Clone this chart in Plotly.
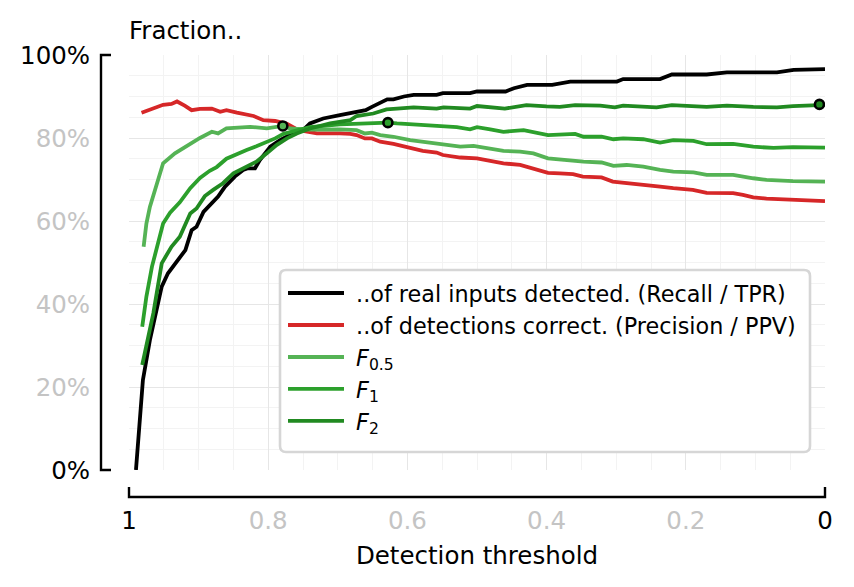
import numpy as np
import plotly.graph_objects as go

# ---------------- data ----------------
recall_t = [0.990, 0.980, 0.970, 0.963, 0.953, 0.944, 0.932, 0.919, 0.910, 0.903,
            0.893, 0.883, 0.872, 0.862, 0.848, 0.836, 0.829, 0.819, 0.812, 0.797,
            0.783, 0.769, 0.750, 0.740, 0.721, 0.697, 0.682, 0.673, 0.660, 0.651,
            0.639, 0.629, 0.620, 0.605, 0.591, 0.558, 0.549, 0.510, 0.500, 0.459,
            0.447, 0.428, 0.392, 0.366, 0.299, 0.290, 0.237, 0.220, 0.170, 0.141,
            0.069, 0.045, 0.000]
recall_v = [0.000, 0.217, 0.313, 0.369, 0.442, 0.474, 0.502, 0.530, 0.578, 0.586,
            0.622, 0.639, 0.659, 0.683, 0.707, 0.723, 0.727, 0.727, 0.747, 0.779,
            0.795, 0.807, 0.819, 0.835, 0.847, 0.855, 0.859, 0.863, 0.867, 0.875,
            0.885, 0.893, 0.893, 0.900, 0.904, 0.904, 0.908, 0.908, 0.912, 0.912,
            0.920, 0.928, 0.928, 0.936, 0.936, 0.942, 0.942, 0.953, 0.953, 0.958,
            0.958, 0.964, 0.966]

precision_t = [0.982, 0.967, 0.951, 0.939, 0.931, 0.920, 0.910, 0.898, 0.881, 0.869,
               0.860, 0.845, 0.833, 0.821, 0.807, 0.790, 0.773, 0.761, 0.750, 0.730,
               0.697, 0.682, 0.673, 0.661, 0.651, 0.639, 0.620, 0.596, 0.578, 0.558,
               0.549, 0.524, 0.500, 0.481, 0.462, 0.438, 0.419, 0.398, 0.381, 0.362,
               0.348, 0.321, 0.305, 0.285, 0.262, 0.237, 0.218, 0.190, 0.170, 0.132,
               0.118, 0.103, 0.084, 0.046, 0.000]
precision_v = [0.861, 0.871, 0.880, 0.882, 0.888, 0.878, 0.867, 0.870, 0.871, 0.863,
               0.867, 0.861, 0.858, 0.853, 0.843, 0.841, 0.834, 0.823, 0.817, 0.811,
               0.811, 0.810, 0.807, 0.799, 0.799, 0.791, 0.786, 0.775, 0.769, 0.765,
               0.759, 0.753, 0.751, 0.745, 0.739, 0.735, 0.727, 0.716, 0.715, 0.713,
               0.707, 0.705, 0.695, 0.692, 0.689, 0.683, 0.679, 0.675, 0.668, 0.667,
               0.663, 0.657, 0.654, 0.652, 0.648]

f05_t = [0.979, 0.975, 0.970, 0.960, 0.951, 0.934, 0.915, 0.898, 0.881, 0.872,
         0.860, 0.836, 0.826, 0.802, 0.790, 0.779, 0.769, 0.740, 0.697, 0.673,
         0.661, 0.651, 0.639, 0.620, 0.596, 0.577, 0.553, 0.524, 0.505, 0.481,
         0.462, 0.438, 0.419, 0.398, 0.366, 0.347, 0.321, 0.304, 0.285, 0.261,
         0.237, 0.218, 0.189, 0.170, 0.132, 0.117, 0.103, 0.084, 0.046, 0.000]
f05_v = [0.538, 0.594, 0.634, 0.691, 0.739, 0.763, 0.783, 0.800, 0.815, 0.811,
         0.823, 0.826, 0.827, 0.823, 0.826, 0.829, 0.823, 0.820, 0.821, 0.819,
         0.811, 0.813, 0.807, 0.803, 0.795, 0.791, 0.786, 0.779, 0.781, 0.775,
         0.769, 0.767, 0.763, 0.751, 0.745, 0.743, 0.741, 0.733, 0.735, 0.731,
         0.723, 0.719, 0.717, 0.711, 0.711, 0.708, 0.703, 0.699, 0.696, 0.695]

f1_t = [0.981, 0.975, 0.967, 0.958, 0.951, 0.941, 0.927, 0.912, 0.898, 0.884,
        0.874, 0.860, 0.845, 0.831, 0.817, 0.802, 0.790, 0.778, 0.759, 0.740,
        0.697, 0.673, 0.649, 0.628, 0.615, 0.591, 0.558, 0.529, 0.510, 0.500,
        0.481, 0.462, 0.433, 0.419, 0.398, 0.359, 0.347, 0.321, 0.304, 0.290,
        0.261, 0.237, 0.218, 0.189, 0.170, 0.132, 0.117, 0.103, 0.074, 0.046,
        0.000]
f1_v = [0.345, 0.418, 0.490, 0.554, 0.594, 0.620, 0.645, 0.679, 0.704, 0.721,
        0.730, 0.750, 0.762, 0.771, 0.780, 0.790, 0.799, 0.810, 0.819, 0.826,
        0.833, 0.834, 0.835, 0.837, 0.835, 0.833, 0.829, 0.826, 0.821, 0.826,
        0.821, 0.815, 0.819, 0.815, 0.807, 0.810, 0.803, 0.803, 0.797, 0.799,
        0.797, 0.789, 0.795, 0.793, 0.785, 0.786, 0.783, 0.779, 0.776, 0.778,
        0.777]

f2_t = [0.981, 0.965, 0.953, 0.939, 0.927, 0.920, 0.912, 0.903, 0.891, 0.879,
        0.865, 0.850, 0.831, 0.817, 0.802, 0.788, 0.773, 0.759, 0.740, 0.711,
        0.682, 0.673, 0.649, 0.630, 0.615, 0.591, 0.558, 0.548, 0.510, 0.500,
        0.460, 0.448, 0.429, 0.400, 0.381, 0.359, 0.323, 0.302, 0.290, 0.242,
        0.220, 0.170, 0.141, 0.103, 0.069, 0.046, 0.008, 0.000]
f2_v = [0.253, 0.378, 0.498, 0.538, 0.562, 0.586, 0.618, 0.630, 0.660, 0.675,
        0.691, 0.715, 0.731, 0.743, 0.763, 0.783, 0.799, 0.811, 0.823, 0.835,
        0.843, 0.853, 0.859, 0.869, 0.871, 0.874, 0.871, 0.874, 0.871, 0.877,
        0.871, 0.875, 0.879, 0.876, 0.875, 0.879, 0.878, 0.874, 0.878, 0.874,
        0.879, 0.875, 0.878, 0.875, 0.874, 0.877, 0.881, 0.880]

x_tickvals = [1.0, 0.8, 0.6, 0.4, 0.2, 0.0]
x_ticklabels = ["1", "0.8", "0.6", "0.4", "0.2", "0"]
y_tickvals = [0.0, 0.2, 0.4, 0.6, 0.8, 1.0]
y_ticklabels = ["0%", "20%", "40%", "60%", "80%", "100%"]

names = ["..of real inputs detected. (Recall / TPR)",
         "..of detections correct. (Precision / PPV)",
         "<i>F</i><sub>0.5</sub>", "<i>F</i><sub>1</sub>", "<i>F</i><sub>2</sub>"]
colors = ["#000000", "#d62728", "#55b355", "#2ca02c", "#218a21"]

# ---------------- figure ----------------
FONT = "DejaVu Sans"
GRAY = "#c4c4c4"
AX_SIZE = 24.5
LEG_SIZE = 22.3
NB = "\u00a0"

def col_label(txt, i, n):
    if i == 0 or i == n - 1:
        return f'<span style="color:#000000">{txt}</span>'
    return txt

fig = go.Figure()
series = [(recall_t, recall_v), (precision_t, precision_v),
          (f05_t, f05_v), (f1_t, f1_v), (f2_t, f2_v)]
for k, ((tx, vy), nm, c) in enumerate(zip(series, names, colors)):
    fig.add_trace(go.Scatter(x=tx, y=vy, mode="lines", name=NB + nm,
                             line=dict(color=c, width=3.8),
                             legendgroup=f"g{k}", hoverinfo="skip"))

# best-threshold markers for the F scores
for (tx, vy), c in zip(series[2:], colors[2:]):
    i = int(np.argmax(vy))
    fig.add_trace(go.Scatter(x=[tx[i]], y=[vy[i]], mode="markers",
                             marker=dict(size=9, color=c,
                                         line=dict(color="black", width=2.6)),
                             showlegend=False, hoverinfo="skip"))

# the page body has an 8px margin, so the figure is slightly smaller
W, H = 838, 571
L, R, T, B = 121, 21, 47, 109
pw, ph = W - L - R, H - T - B
OX, OY = 8 + L, 8 + T + ph  # screen position of the plot's bottom-left corner

def px_x(px):
    return (px - OX) / pw

def px_y(py):
    return (OY - py) / ph

fig.update_layout(
    width=W, height=H, autosize=False,
    margin=dict(l=L, r=R, t=T, b=B, pad=0),
    paper_bgcolor="white", plot_bgcolor="white",
    font=dict(family=FONT, size=AX_SIZE, color="black"),
    legend=dict(x=px_x(283), y=px_y(272), xanchor="left", yanchor="top",
                bgcolor="rgba(0,0,0,0)", borderwidth=0,
                font=dict(family=FONT, size=LEG_SIZE, color="black"),
                itemwidth=56, tracegroupgap=4, traceorder="normal"),
    xaxis=dict(range=[1, 0], autorange=False,
               tickmode="array", tickvals=x_tickvals,
               ticktext=[col_label(t, i, len(x_ticklabels)) for i, t in enumerate(x_ticklabels)],
               tickfont=dict(family=FONT, size=AX_SIZE, color=GRAY),
               ticks="outside", ticklen=29, tickcolor="rgba(0,0,0,0)",
               showgrid=True, gridcolor="#e6e6e6", gridwidth=1.2,
               minor=dict(tickmode="array", tickvals=list(np.round(np.arange(0, 1.0001, 0.05), 2)),
                          showgrid=True, gridcolor="#f3f3f3", gridwidth=1, ticks=""),
               zeroline=False, showline=False,
               title=dict(text="Detection threshold", standoff=12,
                          font=dict(family=FONT, size=AX_SIZE, color="black")),
               automargin=False),
    yaxis=dict(range=[0, 1], autorange=False,
               tickmode="array", tickvals=y_tickvals,
               ticktext=[col_label(t, i, len(y_ticklabels)) for i, t in enumerate(y_ticklabels)],
               tickfont=dict(family=FONT, size=AX_SIZE, color=GRAY),
               ticks="outside", ticklen=33, tickcolor="rgba(0,0,0,0)",
               showgrid=True, gridcolor="#e6e6e6", gridwidth=1.2,
               minor=dict(tickmode="array", tickvals=list(np.round(np.arange(0, 1.0001, 0.05), 2)),
                          showgrid=True, gridcolor="#f3f3f3", gridwidth=1, ticks=""),
               zeroline=False, showline=False, automargin=False),
)

# offset spines ("[" shaped brackets) in paper coordinates
sx = -28 / pw
stub_x = 10 / pw
by = -27 / ph
stub_y = 10 / ph
fig.add_shape(type="path", xref="paper", yref="paper",
              path=f"M {sx + stub_x},0 L {sx},0 L {sx},1 L {sx + stub_x},1",
              line=dict(color="black", width=2.4))
fig.add_shape(type="path", xref="paper", yref="paper",
              path=f"M 0,{by + stub_y} L 0,{by} L 1,{by} L 1,{by + stub_y}",
              line=dict(color="black", width=2.4))

# rounded legend frame
x0, x1 = px_x(280), px_x(810)
y1, y0 = px_y(270), px_y(452)
rx, ry = 6 / pw, 6 / ph
frame = (f"M {x0 + rx},{y1} L {x1 - rx},{y1} Q {x1},{y1} {x1},{y1 - ry} "
         f"L {x1},{y0 + ry} Q {x1},{y0} {x1 - rx},{y0} "
         f"L {x0 + rx},{y0} Q {x0},{y0} {x0},{y0 + ry} "
         f"L {x0},{y1 - ry} Q {x0},{y1} {x0 + rx},{y1} Z")
fig.add_shape(type="path", xref="paper", yref="paper", path=frame, layer="above",
              fillcolor="white", line=dict(color="#d6d6d6", width=2.6))

fig.add_annotation(text="Fraction..", xref="paper", yref="paper", x=0, y=1,
                   xanchor="left", yanchor="bottom", xshift=-2, yshift=8, showarrow=False,
                   font=dict(family=FONT, size=AX_SIZE, color="black"))

fig.write_html("out.html")
